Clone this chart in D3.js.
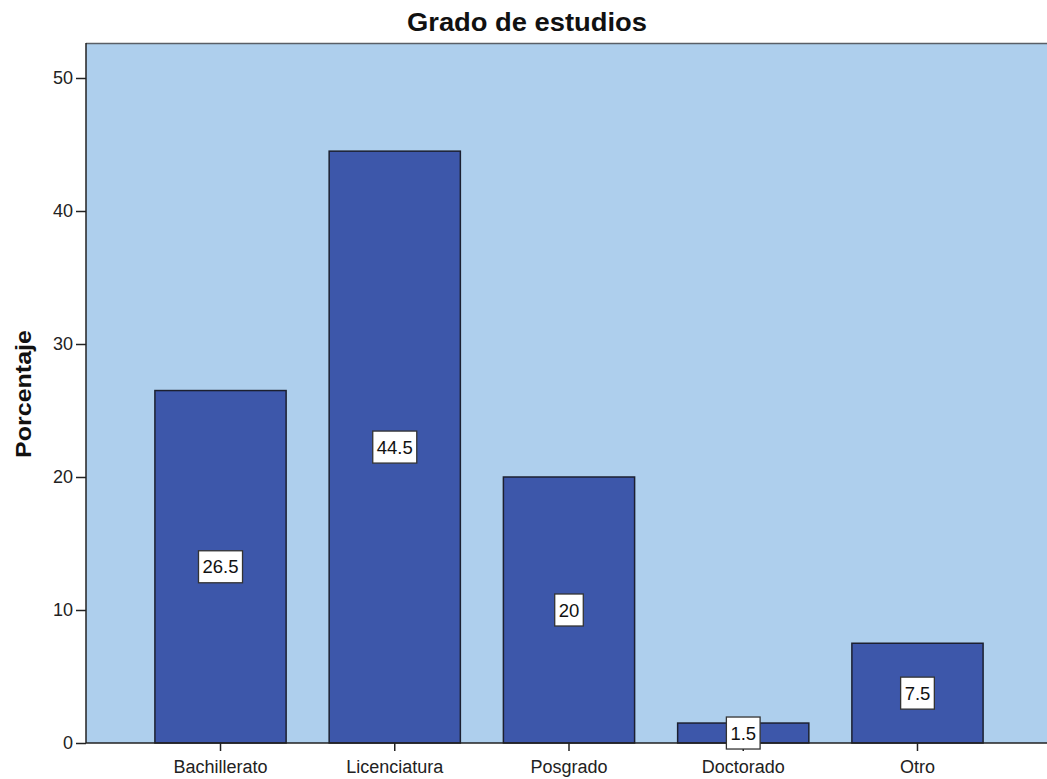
<!doctype html>
<html>
<head>
<style>
body { margin: 0; background: #fff; }
svg { font-family: "Liberation Sans", Arial, sans-serif; }
</style>
<script src="https://d3js.org/d3.v7.min.js"></script>
</head>
<body>
<svg width="1047" height="779"></svg>
<script>
var categories = ["Bachillerato", "Licenciatura", "Posgrado", "Doctorado", "Otro"];
var values = [26.5, 44.5, 20, 1.5, 7.5];
var valueLabels = ["26.5", "44.5", "20", "1.5", "7.5"];
var yTicks = [0, 10, 20, 30, 40, 50];

var svg = d3.select("svg"),
    width = +svg.attr("width"),
    height = +svg.attr("height");

var plot = {left: 86, top: 43, right: 1047, bottom: 743};

var x = d3.scaleBand()
    .domain(categories)
    .range([134, 1004])
    .paddingInner(0.247)
    .paddingOuter(0.12);

var y = d3.scaleLinear()
    .domain([0, 50])
    .range([plot.bottom, 78]);

// background
svg.append("rect")
    .attr("x", plot.left).attr("y", plot.top)
    .attr("width", plot.right - plot.left)
    .attr("height", plot.bottom - plot.top)
    .attr("fill", "#aecfed");

svg.append("line")
    .attr("x1", plot.left).attr("x2", plot.right)
    .attr("y1", plot.top + 0.5).attr("y2", plot.top + 0.5)
    .attr("stroke", "#5a5f66").attr("stroke-width", 1.5);

// bars
svg.selectAll("rect.bar")
    .data(values)
    .enter().append("rect")
    .attr("class", "bar")
    .attr("x", function(d, i) { return x(categories[i]); })
    .attr("y", function(d) { return y(d); })
    .attr("width", x.bandwidth())
    .attr("height", function(d) { return y(0) - y(d); })
    .attr("fill", "#3d57aa")
    .attr("stroke", "#1c2030")
    .attr("stroke-width", 1.5);

// axes
var yAxis = svg.append("g")
    .attr("transform", "translate(" + plot.left + ",0)")
    .call(d3.axisLeft(y).tickValues(yTicks).tickSize(10).tickPadding(3).tickFormat(d3.format("d")));
yAxis.select(".domain").attr("d", "M0," + plot.top + "V" + plot.bottom).attr("stroke", "#222").attr("stroke-width", 1.5);
yAxis.selectAll(".tick line").attr("stroke", "#222").attr("stroke-width", 1.5);
yAxis.selectAll("text").attr("font-size", 18).attr("fill", "#222").attr("font-family", "Liberation Sans, Arial, sans-serif");

var xAxis = svg.append("g")
    .attr("transform", "translate(0," + plot.bottom + ")")
    .call(d3.axisBottom(x).tickSize(8).tickPadding(9));
xAxis.select(".domain").attr("d", "M" + plot.left + ",0H" + plot.right).attr("stroke", "#222").attr("stroke-width", 1.5);
xAxis.selectAll(".tick line").attr("stroke", "#222").attr("stroke-width", 1.5);
xAxis.selectAll("text").attr("font-size", 18).attr("fill", "#222").attr("font-family", "Liberation Sans, Arial, sans-serif");

// value labels
var lab = svg.selectAll("g.lab")
    .data(values)
    .enter().append("g")
    .attr("class", "lab")
    .attr("transform", function(d, i) {
      return "translate(" + (x(categories[i]) + x.bandwidth() / 2) + "," + y(d / 2) + ")";
    });

lab.append("text")
    .attr("text-anchor", "middle")
    .attr("dy", "0.36em")
    .attr("font-size", 18.5)
    .attr("fill", "#111")
    .text(function(d, i) { return valueLabels[i]; });

lab.each(function() {
  var g = d3.select(this);
  var bb = g.select("text").node().getBBox();
  g.insert("rect", "text")
    .attr("x", bb.x - 4).attr("y", -16)
    .attr("width", bb.width + 8).attr("height", 32)
    .attr("fill", "#fff")
    .attr("stroke", "#333")
    .attr("stroke-width", 1.3);
});

// title
svg.append("text")
    .attr("x", 527).attr("y", 31)
    .attr("text-anchor", "middle")
    .attr("font-size", 25)
    .attr("font-weight", "bold")
    .attr("fill", "#111")
    .attr("textLength", 240)
    .attr("lengthAdjust", "spacingAndGlyphs")
    .text("Grado de estudios");

svg.append("text")
    .attr("transform", "translate(31,394) rotate(-90)")
    .attr("text-anchor", "middle")
    .attr("font-size", 22)
    .attr("font-weight", "bold")
    .attr("fill", "#111")
    .attr("textLength", 128)
    .attr("lengthAdjust", "spacingAndGlyphs")
    .text("Porcentaje");
</script>
</body>
</html>
